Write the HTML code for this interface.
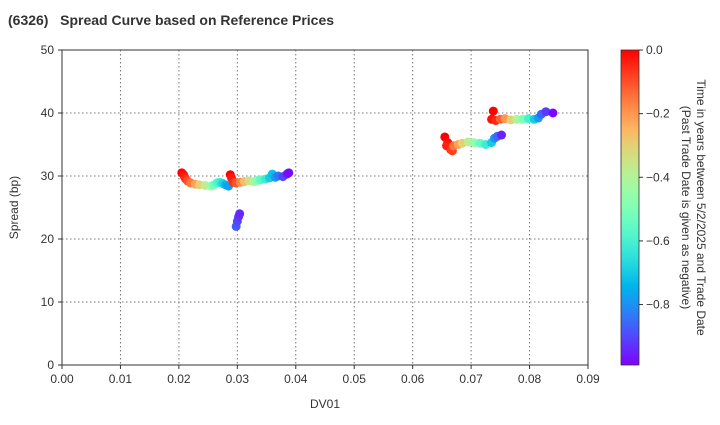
<!DOCTYPE html>
<html><head><meta charset="utf-8"><style>
body{margin:0;background:#fff;font-family:"Liberation Sans",Arial,sans-serif}
svg text{font-family:"Liberation Sans",Arial,sans-serif;fill:#333}
</style></head><body>
<svg id="chart" width="720" height="420" xmlns="http://www.w3.org/2000/svg">
<defs>
<linearGradient id="cb" x1="0" y1="1" x2="0" y2="0"></linearGradient>
</defs>
<text x="8" y="25" font-size="14" font-weight="bold" style="fill:#333;white-space:pre">(6326)   Spread Curve based on Reference Prices</text>
<g id="grid"></g>
<g id="points"></g>
<rect x="62" y="50" width="526" height="315" fill="none" stroke="#333" stroke-width="1"/>
<g id="xticks"></g>
<g id="yticks"></g>
<text x="325" y="408" font-size="12" text-anchor="middle">DV01</text>
<text transform="translate(18,207.5) rotate(-90)" font-size="12" text-anchor="middle">Spread (bp)</text>
<rect x="621" y="50" width="18" height="315" fill="url(#cb)" stroke="#333" stroke-width="0.8"/>
<g id="cbticks"></g>
<text transform="translate(697,207.5) rotate(90)" font-size="12" text-anchor="middle">Time in years between 5/2/2025 and Trade Date</text>
<text transform="translate(682,207.5) rotate(90)" font-size="12" text-anchor="middle">(Past Trade Date is given as negative)</text>
</svg>
<script>
const dv01 = [0.0205,0.0208,0.021,0.0212,0.0215,0.022,0.0228,0.0235,0.0245,0.0255,0.026,0.0265,0.027,0.0275,0.028,0.0285,
0.0288,0.029,0.0293,0.0298,0.0305,0.0312,0.032,0.0328,0.0335,0.034,0.0348,0.0355,0.036,0.0365,0.037,0.0378,0.0385,0.0388,
0.0298,0.0300,0.0302,0.0304,
0.0655,0.066,0.0658,0.0665,0.0668,0.067,0.0678,0.0685,0.0695,0.0705,0.0715,0.0725,0.0735,0.074,0.0745,0.0752,
0.0738,0.0735,0.0742,0.075,0.0758,0.0768,0.0778,0.0788,0.0798,0.0808,0.0815,0.082,0.0828,0.084];
const spread = [30.5,30.2,29.8,29.5,29.2,28.9,28.7,28.6,28.5,28.4,28.6,28.9,29.0,28.8,28.6,28.4,
30.2,29.7,29.0,28.9,29.0,29.1,29.2,29.1,29.3,29.4,29.5,29.7,30.3,29.8,30.0,29.9,30.3,30.5,
22.0,22.8,23.5,24.0,
36.2,35.3,34.8,34.2,34.0,34.8,35.0,35.2,35.4,35.3,35.2,35.0,35.3,36.0,36.3,36.5,
40.3,39.0,38.8,39.0,39.1,38.9,39.0,39.0,39.1,39.0,39.2,39.8,40.2,40.0];
const tyears = [0,-0.02,-0.04,-0.06,-0.1,-0.15,-0.22,-0.3,-0.38,-0.45,-0.52,-0.58,-0.62,-0.68,-0.74,-0.78,
0,-0.03,-0.06,-0.1,-0.18,-0.26,-0.34,-0.42,-0.5,-0.56,-0.62,-0.7,-0.72,-0.78,-0.84,-0.9,-0.95,-0.98,
-0.88,-0.9,-0.92,-0.94,
0,-0.02,-0.04,-0.06,-0.08,-0.15,-0.22,-0.3,-0.38,-0.46,-0.55,-0.62,-0.7,-0.8,-0.86,-0.95,
0,-0.02,-0.05,-0.12,-0.2,-0.3,-0.4,-0.5,-0.6,-0.7,-0.78,-0.86,-0.92,-0.98];
const xTicks = ["0.00","0.01","0.02","0.03","0.04","0.05","0.06","0.07","0.08","0.09"];
const yTicks = ["0","10","20","30","40","50"];
const cbTicks = ["0.0","\u22120.2","\u22120.4","\u22120.6","\u22120.8"];

const NS="http://www.w3.org/2000/svg";
const X0=62,X1=588,Y0=365,Y1=50;
const xs=v=>X0+(v-0)/0.09*(X1-X0);
const ys=v=>Y0-(v/50)*(Y0-Y1);
const TMIN=-0.99,TMAX=0;
const cs=v=>Y0-(v-TMIN)/(TMAX-TMIN)*(Y0-Y1);
function rainbow(x){
  const c=v=>Math.round(255*Math.max(0,Math.min(1,v)));
  return `rgb(${c(Math.abs(2*x-0.5))},${c(Math.sin(Math.PI*x))},${c(Math.cos(Math.PI*x/2))})`;
}
const tcol=t=>rainbow((t-TMIN)/(TMAX-TMIN));
function mk(tag,attrs,parent,txt){const e=document.createElementNS(NS,tag);for(const k in attrs)e.setAttribute(k,attrs[k]);if(txt!==undefined)e.textContent=txt;parent.appendChild(e);return e;}

const grid=document.getElementById('grid');
const xg=document.getElementById('xticks'),yg=document.getElementById('yticks');
xTicks.forEach(t=>{const x=xs(parseFloat(t));
  const l=mk('line',{x1:x,x2:x,y1:Y1,y2:Y0,stroke:'#777','stroke-dasharray':'1.5,2.5','stroke-width':1},grid);
  
  
  mk('line',{x1:x,x2:x,y1:Y0,y2:Y0+4,stroke:'#333'},xg);
  const tx=mk('text',{x:x,y:Y0+18,'font-size':12,'text-anchor':'middle'},xg,t);
  
  
});
yTicks.forEach(t=>{const y=ys(parseFloat(t));
  const l=mk('line',{x1:X0,x2:X1,y1:y,y2:y,stroke:'#777','stroke-dasharray':'1.5,2.5','stroke-width':1},grid);
  
  
  mk('line',{x1:X0-4,x2:X0,y1:y,y2:y,stroke:'#333'},yg);
  const tx=mk('text',{x:X0-8,y:y+4,'font-size':12,'text-anchor':'end'},yg,t);
  
  
});
const cg=document.getElementById('cbticks');
cbTicks.forEach(t=>{const y=cs(parseFloat(t.replace('\u2212','-')));
  mk('line',{x1:639,x2:643,y1:y,y2:y,stroke:'#333'},cg);
  const tx=mk('text',{x:646,y:y+4,'font-size':12},cg,t);
  
  
});
const grad=document.getElementById('cb');
for(let i=0;i<=20;i++){mk('stop',{offset:(i/20),'stop-color':rainbow(i/20)},grad);}
const pg=document.getElementById('points');
dv01.forEach((d,i)=>{
  const c=mk('circle',{cx:xs(d),cy:ys(spread[i]),r:4.5,fill:tcol(tyears[i])},pg);
  
  
});
</script>
</body></html>
